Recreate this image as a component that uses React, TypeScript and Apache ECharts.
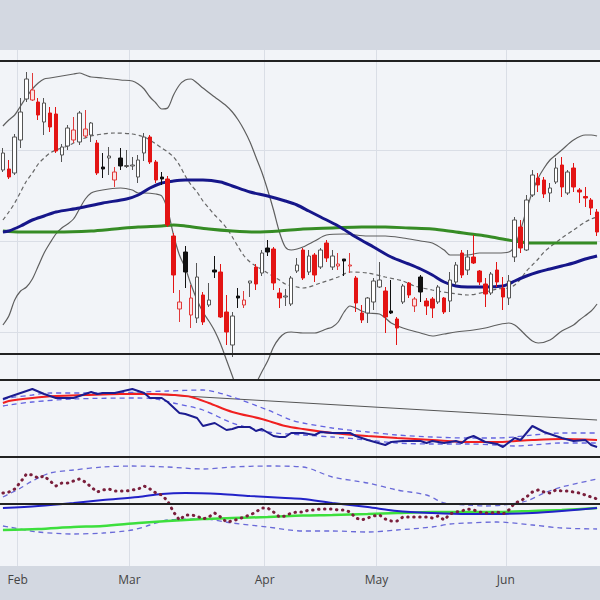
import React, { useEffect, useRef } from "react";
import * as echarts from "echarts";

// ---- calendar (US trading days, 2023) ----
const firstDay = "2023-01-27";
const dayCount = 102;
const holidays = ["2023-02-20", "2023-04-07", "2023-05-29", "2023-06-19"];
const monthNames = ["Jan", "Feb", "Mar", "Apr", "May", "Jun", "Jul", "Aug", "Sep", "Oct", "Nov", "Dec"];

function buildTradingDays(start: string, count: number, skip: string[]): string[] {
  const out: string[] = [];
  const d = new Date(start + "T00:00:00Z");
  while (out.length < count) {
    const wd = d.getUTCDay();
    const s = d.toISOString().slice(0, 10);
    if (wd !== 0 && wd !== 6 && !skip.includes(s)) out.push(s);
    d.setUTCDate(d.getUTCDate() + 1);
  }
  return out;
}
const dates = buildTradingDays(firstDay, dayCount, holidays);

// ---- price candles: [open, close, low, high] ----
const candles: number[][] = [
  [121.0, 122.7, 120.8, 123.2], [121.1, 120.3, 120.1, 122.0], [120.7, 124.3, 120.5, 124.6],
  [124.0, 126.8, 123.2, 128.2], [128.1, 130.1, 127.8, 130.8], [128.0, 129.0, 127.9, 130.7],
  [127.8, 126.5, 126.0, 128.2], [125.8, 127.7, 124.5, 128.2], [126.7, 125.3, 124.8, 127.3],
  [126.6, 122.9, 122.7, 127.3], [122.5, 123.3, 121.8, 123.6], [123.4, 125.2, 123.0, 125.5],
  [124.0, 125.0, 123.7, 126.3], [123.8, 126.7, 123.5, 126.9], [124.4, 125.1, 124.2, 127.0],
  [124.5, 125.7, 123.8, 125.8], [123.7, 120.7, 120.5, 124.0], [121.3, 121.1, 120.2, 122.7],
  [122.2, 122.4, 120.5, 123.3], [120.0, 120.8, 119.3, 121.3], [122.2, 121.4, 121.0, 123.2],
  [121.35, 121.45, 121.2, 123.0], [121.4, 121.5, 121.0, 122.3], [120.3, 122.0, 119.7, 122.5],
  [122.7, 124.3, 121.9, 124.7], [124.3, 121.8, 121.6, 124.5], [121.8, 120.0, 119.7, 122.0],
  [120.3, 120.1, 119.5, 120.8], [120.1, 115.5, 115.3, 120.4], [114.4, 110.5, 108.7, 114.7],
  [107.1, 107.8, 105.8, 109.0], [112.8, 110.8, 109.2, 113.4], [106.5, 108.2, 105.2, 109.5],
  [106.2, 110.3, 105.7, 111.7], [108.5, 105.8, 105.5, 108.8], [107.5, 108.0, 107.3, 109.7],
  [111.0, 110.8, 110.2, 112.4], [110.8, 106.3, 106.2, 111.6], [106.8, 104.8, 103.5, 108.5],
  [103.5, 106.4, 102.3, 106.8], [108.4, 108.2, 107.2, 109.2], [107.5, 108.0, 107.2, 108.9],
  [109.7, 109.9, 108.3, 109.9], [111.3, 109.6, 109.0, 111.6], [110.7, 112.7, 110.4, 113.0],
  [113.2, 112.8, 112.4, 114.0], [113.1, 109.7, 109.0, 113.3], [108.7, 108.2, 107.2, 109.2],
  [108.3, 108.4, 107.4, 109.1], [107.6, 110.2, 107.4, 110.4], [110.9, 111.5, 110.7, 112.2],
  [113.0, 110.2, 110.0, 113.2], [110.8, 112.4, 110.5, 113.0], [112.5, 110.5, 109.8, 112.7],
  [111.3, 113.0, 111.1, 113.2], [113.7, 112.2, 111.8, 114.0], [111.3, 112.4, 111.0, 113.0],
  [111.4, 111.6, 111.0, 112.7], [112.1, 111.9, 110.4, 112.1], [111.4, 111.5, 110.7, 112.7],
  [110.2, 107.7, 106.8, 110.4], [106.7, 106.0, 105.7, 107.5], [106.7, 108.2, 105.7, 108.3],
  [107.8, 109.9, 107.0, 110.2], [109.3, 110.0, 109.2, 111.8], [108.9, 106.3, 104.7, 109.3],
  [106.9, 106.7, 106.6, 110.0], [106.1, 105.2, 103.5, 106.3], [107.8, 109.4, 107.6, 109.6],
  [109.7, 108.5, 108.2, 109.8], [107.4, 108.1, 106.8, 108.3], [110.3, 108.8, 107.8, 110.5],
  [107.9, 107.4, 106.5, 108.2], [108.1, 107.2, 106.2, 108.3], [107.8, 109.3, 107.6, 109.5],
  [108.2, 106.8, 106.6, 108.3], [107.9, 110.0, 106.8, 110.8], [109.8, 111.5, 109.5, 111.8],
  [112.7, 110.5, 110.2, 113.0], [111.0, 112.3, 110.5, 113.0], [112.3, 111.7, 111.6, 114.5],
  [110.9, 109.8, 109.5, 111.0], [109.6, 108.6, 107.3, 110.2], [108.7, 110.6, 108.5, 110.8],
  [111.0, 109.8, 109.3, 111.8], [109.2, 108.3, 107.0, 110.3], [108.2, 109.9, 107.5, 110.5],
  [112.3, 116.0, 111.8, 116.3], [115.3, 113.2, 112.7, 116.0], [113.0, 118.0, 112.9, 118.5],
  [118.5, 120.5, 118.3, 121.0], [120.2, 119.5, 118.8, 120.7], [120.0, 118.6, 118.2, 120.3],
  [118.7, 119.2, 117.8, 119.7], [119.8, 121.2, 119.6, 122.2], [121.5, 119.3, 118.3, 122.3],
  [118.7, 120.8, 118.5, 121.0], [121.2, 119.3, 118.8, 121.7], [119.0, 118.8, 117.7, 119.2],
  [118.35, 118.2, 117.3, 119.3], [118.0, 117.2, 116.5, 118.2], [116.8, 114.8, 114.4, 117.1],
];

// ---- overlays on price pane: [dayIndex, value] ----
const upperBand = [
  [0, 125.4], [1, 126.0], [2, 126.5], [3, 127.4], [4, 128.3], [5, 129.1], [6, 129.7], [7, 130.1], [8, 130.2],
  [10, 130.4], [12, 130.6], [13, 130.7], [14, 130.5], [15, 130.3], [17, 130.2], [20, 130.0], [22, 129.9],
  [23, 129.6], [24, 129.1], [25, 128.3], [26, 127.7], [27, 127.1], [28, 127.2], [29, 128.5], [30, 129.5],
  [31, 130.0], [32, 130.1], [33, 129.7], [34, 129.2], [36, 128.3], [38, 127.4], [39, 126.8], [40, 126.0],
  [41, 125.0], [42, 123.8], [43, 122.3], [44, 120.8], [45, 119.0], [46, 117.0], [47, 114.8], [48, 113.3],
  [49, 113.0], [50, 113.1], [51, 113.3], [53, 113.9], [55, 114.5], [58, 114.6], [62, 114.4], [65, 114.4],
  [68, 114.2], [71, 113.9], [73, 113.7], [75, 113.0], [76, 112.5], [79, 112.5], [81, 112.7], [84, 112.7],
  [86, 112.8], [87, 113.4], [88, 115.0], [89, 117.0], [90, 118.8], [91, 120.2], [92, 121.2], [93, 122.0],
  [94, 122.5], [95, 123.0], [97, 124.0], [99, 124.5], [100, 124.5], [101, 124.4],
];
const lowerBand = [
  [0, 105.5], [1, 106.4], [2, 108.0], [3, 108.9], [4, 109.3], [5, 110.1], [6, 111.4], [7, 112.7], [8, 113.7],
  [9, 114.6], [10, 115.2], [11, 115.6], [12, 116.1], [13, 117.1], [14, 118.1], [15, 118.7], [16, 118.9],
  [18, 119.1], [20, 119.2], [22, 119.0], [23, 118.7], [24, 118.7], [26, 118.6], [27, 118.4], [28, 117.0],
  [29, 114.5], [30, 112.5], [31, 111.2], [32, 109.5], [33, 108.0], [34, 106.8], [35, 105.9], [36, 104.9],
  [37, 103.6], [38, 102.0], [39, 100.4], [40, 98.8], [41, 98.0], [42, 98.4], [43, 99.6], [44, 100.8],
  [45, 101.9], [46, 103.3], [47, 104.2], [48, 104.7], [49, 104.8], [51, 104.7], [53, 104.7], [55, 105.1],
  [56, 105.3], [57, 105.8], [58, 106.8], [59, 107.4], [60, 107.2], [61, 106.9], [62, 106.7], [64, 106.6],
  [65, 106.2], [66, 105.7], [68, 105.2], [71, 104.7], [73, 104.4], [75, 104.6], [77, 104.8], [80, 105.0],
  [82, 105.2], [84, 105.5], [86, 105.7], [87, 105.5], [88, 105.0], [89, 104.4], [90, 103.9], [91, 103.7],
  [93, 104.0], [95, 104.9], [97, 105.5], [98, 106.0], [100, 106.9], [101, 107.6],
];
const midBand = [
  [0, 116.0], [1, 116.8], [2, 117.7], [3, 118.8], [4, 119.9], [5, 120.7], [6, 121.6], [7, 122.2], [8, 122.7],
  [9, 123.0], [11, 123.4], [13, 124.0], [15, 124.4], [17, 124.6], [19, 124.7], [22, 124.6], [24, 124.3],
  [25, 124.0], [26, 123.6], [27, 123.2], [28, 122.8], [29, 122.3], [30, 121.5], [31, 120.4], [32, 119.5],
  [33, 118.8], [34, 117.9], [35, 117.2], [36, 116.5], [37, 115.9], [38, 115.2], [39, 114.3], [40, 113.3],
  [41, 112.4], [42, 111.8], [43, 111.4], [45, 110.7], [47, 110.0], [48, 109.6], [50, 109.3], [51, 109.2],
  [54, 109.7], [57, 110.3], [59, 110.8], [62, 110.7], [65, 110.3], [68, 109.9], [70, 109.4], [73, 109.0],
  [76, 108.7], [79, 108.5], [82, 108.8], [84, 109.1], [86, 109.2], [87, 109.5], [88, 110.1], [89, 110.9],
  [90, 111.5], [91, 112.1], [92, 112.8], [93, 113.3], [95, 114.2], [97, 115.0], [99, 115.8], [100, 116.1],
  [101, 116.3],
];
const blueMA = [
  [0, 114.8], [1, 114.9], [3, 115.4], [5, 116.0], [7, 116.4], [9, 116.8], [13, 117.2], [17, 117.7], [21, 118.1],
  [23, 118.5], [25, 119.2], [27, 119.7], [29, 119.9], [31, 120.0], [34, 120.0], [37, 119.8], [39, 119.4],
  [42, 118.8], [45, 118.4], [48, 117.9], [50, 117.5], [52, 116.9], [54, 116.3], [57, 115.4], [60, 114.3],
  [63, 113.3], [66, 112.3], [69, 111.6], [71, 111.1], [73, 110.5], [75, 109.8], [77, 109.4], [79, 109.3],
  [82, 109.3], [85, 109.4], [86, 109.6], [87, 109.9], [89, 110.4], [91, 110.8], [93, 111.1], [95, 111.4],
  [97, 111.7], [99, 112.1], [101, 112.4],
];
const greenMA = [
  [0, 114.9], [3, 114.8], [9, 114.8], [15, 114.9], [19, 115.1], [23, 115.3], [27, 115.4], [29, 115.5],
  [31, 115.4], [35, 115.1], [39, 114.9], [43, 114.8], [47, 114.9], [51, 115.1], [56, 115.2], [61, 115.3],
  [65, 115.3], [69, 115.2], [73, 115.1], [77, 114.8], [81, 114.5], [84, 114.2], [87, 113.9], [90, 113.7],
  [95, 113.7], [101, 113.7],
];
const priceGridLevels = [123.0, 113.9, 104.8];
const priceRefLevels = [131.9, 102.6];

// ---- middle pane ----
const osc = [
  [0, 58], [1, 60], [2, 62], [4, 66], [5, 68], [7, 63], [9, 59], [12, 59], [14, 63], [15, 65], [16, 63], [17, 64],
  [19, 64], [22, 68], [24, 64], [25, 59], [27, 59], [28, 55], [30, 44], [31, 43], [33, 39], [34, 31], [36, 34],
  [38, 27], [39, 28], [40, 30], [42, 30], [43, 26], [44, 28], [46, 21], [47, 20], [48, 20], [49, 24], [51, 24],
  [53, 22], [54, 25], [56, 24], [59, 24], [60, 21], [62, 17], [65, 12], [66, 15], [68, 16], [71, 16], [72, 14],
  [73, 16], [75, 14], [77, 16], [78, 14], [79, 19], [80, 21], [82, 15], [84, 13], [85, 10], [87, 19], [88, 17],
  [90, 31], [92, 25], [93, 23], [95, 19], [97, 16], [99, 17], [100, 12], [101, 10],
];
const oscMA = [
  [0, 54], [1, 56], [5, 59], [9, 61], [14, 62], [20, 63], [25, 63], [29, 62], [32, 60], [35, 54], [39, 45],
  [44, 38], [48, 31], [51, 28], [56, 24], [62, 21], [67, 19], [73, 17], [79, 15], [84, 15], [90, 17], [95, 18],
  [101, 17],
];
const oscUpper = [
  [0, 57], [1, 59], [5, 62], [8, 64], [17, 64], [28, 66], [34, 67], [39, 60], [45, 47], [49, 37], [51, 34],
  [56, 29], [62, 25], [67, 22], [73, 20], [79, 19], [84, 19], [87, 20], [90, 22], [95, 24], [101, 24],
];
const oscLower = [
  [0, 51], [1, 52], [5, 55], [12, 58], [23, 59], [26, 58], [29, 54], [34, 47], [39, 34], [45, 25], [51, 22],
  [56, 20], [62, 17], [67, 14], [73, 13], [79, 13], [84, 12], [87, 11], [90, 12], [95, 14], [101, 14],
];
const oscTrend = [[22, 64], [101, 37]];
const oscBorders = [77, 0];

// ---- lower pane ----
const lowUpper = [
  [0, 7], [1, 10], [3, 16], [5, 23], [8, 31], [12, 34], [17, 37], [22, 38], [28, 37], [34, 35], [39, 37], [45, 38],
  [51, 37], [56, 27], [62, 21], [67, 14], [72, 9], [75, 1], [79, -1], [82, -2], [85, -1], [89, 3], [92, 11],
  [95, 17], [101, 25],
];
const lowLower = [
  [0, -22], [1, -23], [6, -28], [12, -30], [17, -29], [22, -26], [25, -21], [28, -16], [34, -15], [39, -19],
  [45, -23], [51, -27], [56, -27], [62, -28], [67, -26], [73, -23], [76, -20], [79, -19], [84, -18], [90, -21],
  [95, -24], [101, -25],
];
const lowBlue = [
  [0, -4], [6, -2], [12, 1], [17, 4], [23, 7], [27, 10], [31, 11], [37, 10], [42, 8], [48, 6], [51, 5], [56, 1],
  [62, -3], [67, -7], [73, -9], [79, -10], [84, -10], [90, -9], [95, -7], [101, -4],
];
const lowGreen = [
  [0, -26], [6, -25], [12, -23], [17, -22], [23, -19], [28, -17], [34, -15], [39, -14], [45, -13], [51, -11.5],
  [56, -11], [62, -10], [67, -9], [73, -8], [79, -8], [84, -8], [90, -7], [95, -6], [101, -4],
];
const lowDotted = [
  11, 12, 15, 22, 30, 29, 26, 28, 23, 18, 21, 21, 23, 25, 22, 17, 12, 14, 15, 13,
  13, 13, 14, 15, 18, 15, 11, 9, 3, -8, -16, -11, -11, -12, -15, -13, -9, -13, -18, -17,
  -15, -13, -11, -8, -4, -4, -8, -13, -12, -9, -8, -8, -6, -6, -5, -5, -5, -6, -6, -8,
  -14, -16, -14, -12, -11, -15, -17, -17, -13, -13, -13, -13, -13, -14, -12, -16, -10, -8, -7, -5,
  -6, -8, -9, -9, -8, -10, -6, 1, 3, 7, 12, 14, 12, 11, 14, 13, 13, 12, 11, 9,
  7, 5,
];
const lowZero = [0];

const isMonthStart = (i: number) => i > 0 && dates[i].slice(5, 7) !== dates[i - 1].slice(5, 7);

function candleItems() {
  return candles.map((c, i) => {
    const [o, cl] = c;
    const prev = i > 0 ? candles[i - 1][1] : o;
    const hollow = cl >= o;
    const higher = cl >= prev;
    let fill: string;
    let stroke: string;
    if (hollow) {
      fill = higher ? "#ffffff" : "#fbe2e2";
      stroke = higher ? "#555555" : "#e03a3a";
    } else {
      fill = higher ? "#111111" : "#e31414";
      stroke = fill;
    }
    return { value: c, itemStyle: { color: fill, color0: fill, borderColor: stroke, borderColor0: stroke, borderWidth: 1 } };
  });
}

const blackLine = { color: "#222222", width: 2, type: "solid" as const };

function refLines(levels: number[], style: any, z: number) {
  return {
    silent: true,
    symbol: ["none", "none"],
    label: { show: false },
    lineStyle: style,
    emphasis: { disabled: true },
    z,
    animation: false,
    data: levels.map((v) => ({ yAxis: v })),
  };
}

function lineSeries(data: any, xi: number, color: string, width: number, extra: any = {}) {
  return {
    type: "line",
    xAxisIndex: xi,
    yAxisIndex: xi,
    data,
    symbol: "none",
    showSymbol: false,
    silent: true,
    lineStyle: { color, width, ...(extra.lineStyle || {}) },
    smooth: extra.smooth ?? 0.3,
    z: extra.z ?? 3,
    markLine: extra.markLine,
    emphasis: { disabled: true },
  };
}

export default function App() {
  const ref = useRef<HTMLDivElement>(null);
  useEffect(() => {
    if (!ref.current) return;
    const chart = echarts.init(ref.current, undefined, { renderer: "svg" });
    const gridBase = { left: -5, width: 609, show: true, backgroundColor: "#f2f4f8", borderWidth: 0 };
    const xBase = (gi: number, labels: boolean) => ({
      type: "category",
      gridIndex: gi,
      data: dates,
      boundaryGap: true,
      axisLine: { show: false },
      axisTick: { show: false },
      axisLabel: labels
        ? {
            show: true,
            interval: (i: number) => isMonthStart(i),
            formatter: (v: string) => monthNames[parseInt(v.slice(5, 7), 10) - 1],
            color: "#444444",
            fontSize: 12,
            fontFamily: "Open Sans, sans-serif",
            margin: 7,
            padding: [0, 6, 0, 0],
          }
        : { show: false },
      splitLine: { show: true, interval: (i: number) => isMonthStart(i), lineStyle: { color: "#dadee6", width: 1 } },
    });
    chart.setOption({
      animation: false,
      backgroundColor: "#d3d8e1",
      grid: [
        { ...gridBase, top: 50, height: 330 },
        { ...gridBase, top: 380, height: 77 },
        { ...gridBase, top: 457, height: 109 },
      ],
      xAxis: [xBase(0, false), xBase(1, false), xBase(2, true)],
      yAxis: [
        { type: "value", gridIndex: 0, min: 100, max: 133, show: false },
        { type: "value", gridIndex: 1, min: 0, max: 77, show: false },
        { type: "value", gridIndex: 2, min: -62, max: 47, show: false },
      ],
      series: [
        // price pane
        {
          type: "line", xAxisIndex: 0, yAxisIndex: 0, data: [], z: 1, silent: true,
          markLine: refLines(priceGridLevels, { color: "#dadee6", width: 1, type: "solid" }, 1),
        },
        lineSeries(upperBand, 0, "#5f5f5f", 1.2),
        lineSeries(lowerBand, 0, "#5f5f5f", 1.2),
        lineSeries(midBand, 0, "#666666", 1.2, { lineStyle: { type: [4, 3] } }),
        lineSeries(greenMA, 0, "#368c25", 3),
        lineSeries(blueMA, 0, "#16168a", 3),
        {
          type: "candlestick",
          xAxisIndex: 0,
          yAxisIndex: 0,
          data: candleItems(),
          barWidth: 4,
          silent: true,
          z: 5,
          emphasis: { disabled: true },
          markLine: refLines(priceRefLevels, blackLine, 8),
        },
        // middle pane
        lineSeries(oscTrend, 1, "#555555", 1, { smooth: false }),
        lineSeries(oscUpper, 1, "#6262e0", 1.3, { lineStyle: { type: [5, 4] } }),
        lineSeries(oscLower, 1, "#6262e0", 1.3, { lineStyle: { type: [5, 4] } }),
        lineSeries(oscMA, 1, "#f02020", 2),
        lineSeries(osc, 1, "#1c1c90", 2, { smooth: false, z: 4, markLine: refLines(oscBorders, blackLine, 8) }),
        // lower pane
        lineSeries(lowUpper, 2, "#6a6ad8", 1.3, { lineStyle: { type: [5, 4] } }),
        lineSeries(lowLower, 2, "#6a6ad8", 1.3, { lineStyle: { type: [5, 4] } }),
        lineSeries(lowGreen, 2, "#3ddf3d", 2.5),
        lineSeries(lowBlue, 2, "#2222c8", 2),
        lineSeries(lowDotted.map((v, i) => [i, v]), 2, "#7a1f3c", 3, {
          smooth: false,
          z: 4,
          lineStyle: { type: [0.5, 5.5], cap: "round" },
          markLine: refLines(lowZero, blackLine, 8),
        }),
      ],
    });
    return () => chart.dispose();
  }, []);
  return <div ref={ref} style={{ position: "fixed", left: 0, top: 0, width: 600, height: 600 }} />;
}
